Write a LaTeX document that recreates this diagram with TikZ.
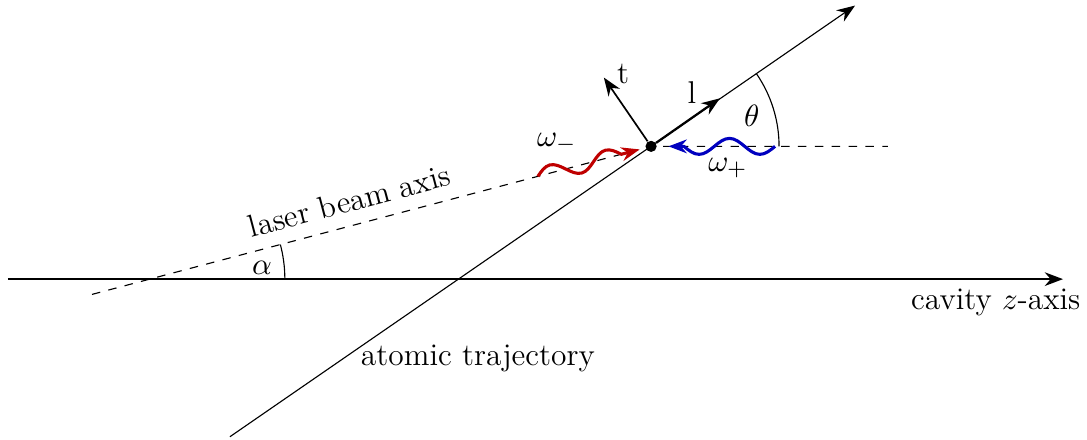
\documentclass[tikz,border=0pt]{standalone}
\usetikzlibrary{arrows.meta}

\begin{document}
\begin{tikzpicture}[
        >={Stealth[length=6.5pt]},
        font=\fontsize{11.2}{13}\selectfont,
        dot/.style={circle, fill=black, inner sep=0pt, minimum size=0.14cm},
        redwave/.style={->, line width=1.1pt, red!75!black},
        bluewave/.style={->, line width=1.1pt, blue!75!black}
    ]
    \useasboundingbox (0,0) rectangle (13.59,5.49);

    % Cavity axis
    \coordinate (Z0) at (0.1,2.0);
    \coordinate (Z1) at (13.29,2.0);
    \draw[->, semithick] (Z0) -- (Z1);
    \node (zaxis) at (12.45,1.71) {cavity $z$-axis};

    % Laser beam axis and atom
    \node[dot] (atom) at (8.14,3.66) {};
    \coordinate (L0) at (1.15,1.809);
    \coordinate (L1) at (11.1,3.66);
    \draw[dashed] (L0) -- (atom.center) -- (L1);
    \node[rotate=14.83] (laser) at (4.37,2.98) {laser beam axis};
    \coordinate (C) at (intersection of Z0--Z1 and L0--atom);
    \draw (C) ++(1.69,0) arc[start angle=0, end angle=14.83, radius=1.69];
    \node (alpha) at (3.275,2.14) {$\alpha$};

    % Atomic trajectory
    \coordinate (T0) at (2.875,0.03);
    \coordinate (T1) at (10.69,5.42);
    \draw[->] (T0) -- (T1);
    \node (traj) at (5.975,1.01) {atomic trajectory};
    \draw (atom.center) ++(1.6,0) arc[start angle=0, end angle=34.6, radius=1.6];
    \node (theta) at (9.4,4.04) {$\theta$};

    % Local frame
    \coordinate (ltip) at (9.0,4.26);
    \coordinate (ttip) at (7.55,4.52);
    \draw[->, thick] (atom) -- (ltip);
    \draw[->, semithick] (atom) -- (ttip);
    \node (l) at (8.65,4.33) {l};
    \node (t) at (7.79,4.57) {t};

    % Photons
    \coordinate (R0) at (6.725,3.285);
    \coordinate (B0) at (9.69,3.66);
    \draw[redwave, rotate=14.83, shorten >=2pt] (R0) sin ++(0.18,0.1) cos ++(0.18,-0.1)
        sin ++(0.18,-0.1) cos ++(0.18,0.1) sin ++(0.18,0.1) cos ++(0.18,-0.1) -- (atom);
    \draw[bluewave, rotate=180, shorten >=4pt] (B0) sin ++(0.19,0.1) cos ++(0.19,-0.1)
        sin ++(0.19,-0.1) cos ++(0.19,0.1) sin ++(0.19,0.1) cos ++(0.19,-0.1) -- (atom);
    \node (wminus) at (6.96,3.7) {$\omega_-$};
    \node (wplus) at (9.1,3.39) {$\omega_+$};

\end{tikzpicture}
\end{document}
